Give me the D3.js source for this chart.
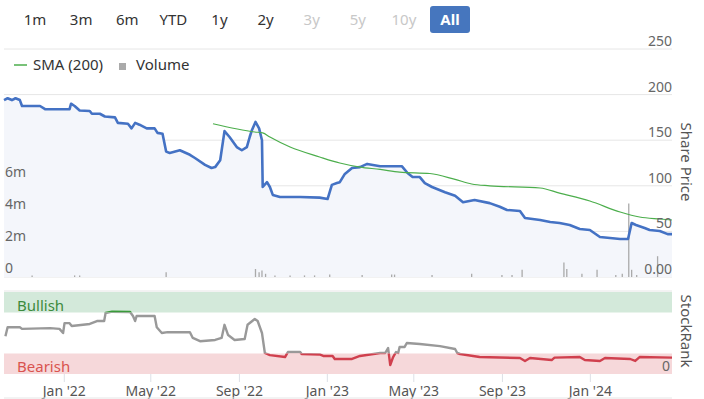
<!DOCTYPE html>
<html lang="en">
<head>
<meta charset="utf-8">
<title>Share Price</title>
<style>
body {
	margin: 0;
	background: #fff;
}
svg text {
	font-family: "Noto Sans", sans-serif;
}
.grid line {
	stroke: #e6e6e6;
	stroke-width: 1px;
}
.tick-label {
	font-size: 14px;
	fill: #666;
}
.x-axis text {
	font-size: 14px;
	fill: #555;
}
.x-axis line {
	stroke: #dde0e6;
}
.btn {
	font-size: 15px;
	text-anchor: middle;
}
</style>
</head>
<body>
<div id="chart"></div>
<script src="https://d3js.org/d3.v7.min.js"></script>
<script>
var rangeButtons = ["1m", "3m", "6m", "YTD", "1y", "2y", "3y", "5y", "10y", "All"];
var disabledButtons = ["3y", "5y", "10y"];
var selectedButton = "All";

var priceTicks = [0, 50, 100, 150, 200, 250];
var priceTickLabels = ["0.00", "50", "100", "150", "200", "250"];
var volumeTicks = [0, 2e6, 4e6, 6e6];
var volumeTickLabels = ["0", "2m", "4m", "6m"];
var monthTicks = ["2022-01-01", "2022-05-01", "2022-09-01", "2023-01-01", "2023-05-01", "2023-09-01", "2024-01-01"];

var priceSeries = [
	["2021-10-10", 194], ["2021-10-15", 196], ["2021-10-21", 194], ["2021-10-26", 196],
	["2021-11-01", 194], ["2021-11-04", 187.5], ["2021-11-29", 187.5], ["2021-12-06", 184],
	["2022-01-09", 184], ["2022-01-11", 190], ["2022-01-16", 187.5], ["2022-01-23", 182.5],
	["2022-02-06", 182], ["2022-02-09", 179], ["2022-02-20", 179], ["2022-02-27", 176],
	["2022-03-13", 175], ["2022-03-17", 169], ["2022-03-31", 168], ["2022-04-05", 163],
	["2022-04-10", 169], ["2022-04-16", 167], ["2022-04-26", 163], ["2022-05-07", 163],
	["2022-05-11", 158], ["2022-05-18", 157], ["2022-05-23", 137.5], ["2022-05-28", 136],
	["2022-06-11", 139], ["2022-06-25", 134], ["2022-07-02", 130.5], ["2022-07-16", 123],
	["2022-07-25", 119.5], ["2022-07-30", 120.5], ["2022-08-06", 128], ["2022-08-12", 160],
	["2022-08-19", 153.5], ["2022-08-29", 142.5], ["2022-09-05", 139], ["2022-09-12", 142.5],
	["2022-09-16", 153.5], ["2022-09-19", 161], ["2022-09-24", 170], ["2022-09-29", 163],
	["2022-10-03", 150], ["2022-10-04", 98.7], ["2022-10-10", 104], ["2022-10-14", 98.7],
	["2022-10-18", 90], ["2022-10-28", 87.7], ["2022-11-25", 87.7], ["2022-12-22", 87],
	["2023-01-02", 85.5], ["2023-01-08", 101], ["2023-01-15", 103], ["2023-01-19", 104],
	["2023-01-26", 113], ["2023-02-05", 119.5], ["2023-02-16", 120.5], ["2023-02-26", 124],
	["2023-03-16", 121.5], ["2023-04-15", 121.5], ["2023-04-23", 114], ["2023-04-30", 109.6],
	["2023-05-10", 109.6], ["2023-05-17", 103], ["2023-05-27", 98.7], ["2023-06-14", 93],
	["2023-06-28", 89], ["2023-07-09", 82], ["2023-07-25", 84.4], ["2023-08-15", 81],
	["2023-08-29", 77], ["2023-09-08", 73.5], ["2023-09-26", 72.4], ["2023-10-03", 64.7],
	["2023-10-24", 62.5], ["2023-11-07", 60.3], ["2023-11-20", 59.2], ["2023-12-04", 57],
	["2023-12-18", 52.6], ["2024-01-01", 51.5], ["2024-01-15", 43.9], ["2024-01-29", 42.8],
	["2024-02-12", 41.7], ["2024-02-23", 41.7], ["2024-02-28", 59.2], ["2024-03-05", 57],
	["2024-03-17", 53.7], ["2024-03-24", 51.5], ["2024-04-07", 50.4], ["2024-04-18", 47],
	["2024-04-24", 47]
];

var smaSeries = [
	["2022-07-27", 168], ["2022-09-23", 159], ["2022-10-04", 158], ["2022-10-14", 153.5],
	["2022-11-11", 142.5], ["2022-12-22", 131.6], ["2023-01-19", 125], ["2023-02-16", 120.5],
	["2023-03-16", 118], ["2023-04-12", 115], ["2023-05-24", 113.5], ["2023-06-28", 107],
	["2023-07-21", 102], ["2023-08-15", 100], ["2023-10-24", 97.6], ["2023-11-20", 92],
	["2024-01-01", 83.3], ["2024-02-12", 71.3], ["2024-03-10", 65.8], ["2024-04-07", 63.6],
	["2024-04-24", 62.5]
];

var volumeSeries = [
	["2021-11-18", 0.1e6], ["2022-01-16", 0.1e6], ["2022-01-23", 0.1e6], ["2022-05-23", 0.3e6],
	["2022-09-24", 0.5e6], ["2022-09-29", 0.3e6], ["2022-10-03", 0.4e6], ["2022-10-08", 0.2e6],
	["2022-10-21", 0.1e6], ["2022-11-11", 0.1e6], ["2022-12-01", 0.1e6], ["2022-12-15", 0.1e6],
	["2023-01-05", 0.15e6], ["2023-02-19", 0.12e6], ["2023-04-01", 0.15e6], ["2023-04-05", 0.15e6],
	["2023-05-27", 0.12e6], ["2023-07-21", 0.2e6], ["2023-09-01", 0.12e6], ["2023-09-15", 0.12e6],
	["2023-09-29", 0.45e6], ["2023-11-26", 0.9e6], ["2023-11-30", 0.5e6], ["2023-12-21", 0.2e6],
	["2024-01-11", 0.45e6], ["2024-02-06", 0.12e6], ["2024-02-15", 0.2e6], ["2024-02-24", 4.6e6],
	["2024-02-28", 0.45e6], ["2024-03-06", 0.12e6], ["2024-04-04", 1.3e6]
];

var rankSeries = [
	["2021-10-12", 46], ["2021-10-15", 57], ["2021-11-01", 57], ["2021-11-04", 55],
	["2021-12-13", 56], ["2021-12-26", 55], ["2021-12-31", 50], ["2022-01-02", 62],
	["2022-01-09", 62], ["2022-01-12", 58.5], ["2022-02-06", 61], ["2022-02-16", 64.6],
	["2022-02-26", 64.6], ["2022-02-28", 74.4], ["2022-03-09", 76], ["2022-04-03", 75.6],
	["2022-04-07", 70.7], ["2022-04-10", 64.6], ["2022-04-12", 70.7], ["2022-05-07", 70.7],
	["2022-05-10", 57], ["2022-05-17", 50], ["2022-05-25", 51], ["2022-06-25", 51],
	["2022-06-29", 44], ["2022-07-09", 40], ["2022-07-30", 41.5], ["2022-08-08", 44],
	["2022-08-12", 60], ["2022-08-17", 47.5], ["2022-08-26", 41.5], ["2022-09-09", 42.7],
	["2022-09-13", 60], ["2022-09-23", 67], ["2022-09-27", 64.6], ["2022-10-03", 50],
	["2022-10-07", 25.6], ["2022-10-14", 23], ["2022-11-04", 20.7], ["2022-11-08", 26.8],
	["2022-11-25", 26.8], ["2022-11-27", 24.4], ["2022-12-22", 23.8], ["2022-12-27", 22],
	["2023-01-09", 22], ["2023-01-12", 18.3], ["2023-02-05", 18.3], ["2023-02-16", 22],
	["2023-03-16", 25.6], ["2023-03-23", 25.6], ["2023-03-27", 31.7], ["2023-03-30", 11],
	["2023-04-03", 20.7], ["2023-04-07", 26.8], ["2023-04-10", 25.6], ["2023-04-12", 33],
	["2023-04-19", 33], ["2023-04-22", 37.8], ["2023-05-10", 36.6], ["2023-06-07", 34],
	["2023-06-28", 30.5], ["2023-07-01", 25.6], ["2023-07-05", 24.4], ["2023-08-01", 20.7],
	["2023-09-26", 19.5], ["2023-10-03", 15.9], ["2023-10-10", 19.5], ["2023-11-09", 17],
	["2023-11-13", 20], ["2023-12-18", 20.7], ["2023-12-25", 17], ["2024-01-15", 15.9],
	["2024-01-22", 19.5], ["2024-02-26", 18.3], ["2024-03-04", 15.9], ["2024-03-10", 20.7],
	["2024-04-24", 20]
];

var bullishLevel = 75, bearishLevel = 25;

var parse = d3.timeParse("%Y-%m-%d");
var W = 704, H = 399;
var left = 4, right = 672;

var svg = d3.select("#chart").append("svg").attr("width", W).attr("height", H);

var x = d3.scaleTime()
	.domain([parse("2021-10-10"), parse("2024-04-24")])
	.range([left, right]);
var yPrice = d3.scaleLinear().domain([0, 250]).range([277, 49]);
var yVol = d3.scaleLinear().domain([0, 6e6]).range([277, 181]);
var yRank = d3.scaleLinear().domain([0, 100]).range([374, 292]);

// range selector buttons
var btnX = d3.scalePoint().domain(rangeButtons).range([35, 450]);
var btns = svg.append("g");
rangeButtons.forEach(function(b) {
	var cx = b == "All" ? 450 : btnX(b);
	if (b == selectedButton) {
		btns.append("rect").attr("x", cx - 20).attr("y", 6).attr("width", 40).attr("height", 27)
			.attr("rx", 3).attr("fill", "#4676be");
	}
	btns.append("text").attr("class", "btn").attr("x", cx).attr("y", 25).text(b)
		.attr("fill", b == selectedButton ? "#fff" : (disabledButtons.indexOf(b) >= 0 ? "#c8c8c8" : "#333"))
		.attr("font-weight", b == selectedButton ? "bold" : "normal");
});

// legend
var legend = svg.append("g");
legend.append("line").attr("x1", 14).attr("x2", 27).attr("y1", 65).attr("y2", 65)
	.attr("stroke", "#4cae4c").attr("stroke-width", 1.5);
legend.append("text").attr("x", 33).attr("y", 70).attr("font-size", 15).attr("fill", "#333").text("SMA (200)");
legend.append("rect").attr("x", 119).attr("y", 63).attr("width", 7).attr("height", 7).attr("fill", "#aaa");
legend.append("text").attr("x", 136).attr("y", 70).attr("font-size", 15).attr("fill", "#333").text("Volume");

// price grid
var grid = svg.append("g").attr("class", "grid");
priceTicks.forEach(function(t) {
	grid.append("line").attr("x1", left).attr("x2", right).attr("y1", yPrice(t)).attr("y2", yPrice(t));
});

// price area + line
var pData = priceSeries.map(function(d) { return { date: parse(d[0]), v: d[1] }; });
svg.append("path").datum(pData)
	.attr("fill", "#f4f6fb")
	.attr("d", d3.area().x(function(d) { return x(d.date); }).y0(yPrice(0)).y1(function(d) { return yPrice(d.v); }));

// volume bars
svg.append("g").selectAll("line").data(volumeSeries).join("line")
	.attr("x1", function(d) { return x(parse(d[0])); })
	.attr("x2", function(d) { return x(parse(d[0])); })
	.attr("y1", yVol(0))
	.attr("y2", function(d) { return yVol(d[1]); })
	.attr("stroke", "#aaa").attr("stroke-width", 1.3);

svg.append("path").datum(pData)
	.attr("fill", "none").attr("stroke", "#4472c4").attr("stroke-width", 2.6)
	.attr("stroke-linejoin", "round")
	.attr("d", d3.line().x(function(d) { return x(d.date); }).y(function(d) { return yPrice(d.v); }));

var sData = smaSeries.map(function(d) { return { date: parse(d[0]), v: d[1] }; });
svg.append("path").datum(sData)
	.attr("fill", "none").attr("stroke", "#4cae4c").attr("stroke-width", 1.2)
	.attr("d", d3.line().curve(d3.curveMonotoneX).x(function(d) { return x(d.date); }).y(function(d) { return yPrice(d.v); }));

// axis labels top panel
priceTicks.forEach(function(t, i) {
	svg.append("text").attr("class", "tick-label").attr("text-anchor", "end")
		.attr("x", right).attr("y", yPrice(t) - 3).text(priceTickLabels[i]);
});
volumeTicks.forEach(function(t, i) {
	svg.append("text").attr("class", "tick-label").attr("x", 5)
		.attr("y", yVol(t) - 4).text(volumeTickLabels[i]);
});
svg.append("text").attr("transform", "translate(681,162) rotate(90)")
	.attr("text-anchor", "middle").attr("font-size", 15).attr("fill", "#555").text("Share Price");

// stockrank panel
svg.append("line").attr("x1", left).attr("x2", right).attr("y1", 291).attr("y2", 291).attr("stroke", "#e6e6e6");
svg.append("rect").attr("x", left).attr("width", right - left)
	.attr("y", yRank(100)).attr("height", yRank(bullishLevel) - yRank(100)).attr("fill", "#d3e9da");
svg.append("rect").attr("x", left).attr("width", right - left)
	.attr("y", yRank(bearishLevel)).attr("height", yRank(0) - yRank(bearishLevel)).attr("fill", "#f6d8da");
svg.append("text").attr("x", 17).attr("y", 311).attr("font-size", 15).attr("fill", "#3d8b3d").text("Bullish");
svg.append("text").attr("x", 17).attr("y", 372).attr("font-size", 15).attr("fill", "#d9534f").text("Bearish");
svg.append("text").attr("class", "tick-label").attr("text-anchor", "end").attr("x", 670).attr("y", 371).text("0");
svg.append("text").attr("transform", "translate(681,331) rotate(90)")
	.attr("text-anchor", "middle").attr("font-size", 15).attr("fill", "#555").text("StockRank");

var defs = svg.append("defs");
var clips = [
	{ id: "clip-bull", y0: 0, y1: yRank(bullishLevel), color: "#3a9a3a" },
	{ id: "clip-mid", y0: yRank(bullishLevel), y1: yRank(bearishLevel), color: "#999" },
	{ id: "clip-bear", y0: yRank(bearishLevel), y1: H, color: "#d0404e" }
];
var rData = rankSeries.map(function(d) { return { date: parse(d[0]), v: d[1] }; });
var rankLine = d3.line().x(function(d) { return x(d.date); }).y(function(d) { return yRank(d.v); });
clips.forEach(function(c) {
	defs.append("clipPath").attr("id", c.id).append("rect")
		.attr("x", 0).attr("width", W).attr("y", c.y0).attr("height", c.y1 - c.y0);
	svg.append("path").datum(rData)
		.attr("clip-path", "url(#" + c.id + ")")
		.attr("fill", "none").attr("stroke", c.color).attr("stroke-width", 2.4)
		.attr("stroke-linejoin", "round").attr("d", rankLine);
});

var xAxis = d3.axisBottom(x)
	.tickValues(monthTicks.map(parse))
	.tickFormat(d3.timeFormat("%b '%y"))
	.tickSize(8).tickPadding(4);
var gx = svg.append("g").attr("class", "x-axis").attr("transform", "translate(0," + yRank(0) + ")").call(xAxis);
gx.select(".domain").remove();
gx.selectAll("text").attr("font-family", null);
svg.append("line").attr("x1", left).attr("x2", right).attr("y1", 398).attr("y2", 398).attr("stroke", "#e6e6e6");
</script>
</body>
</html>
